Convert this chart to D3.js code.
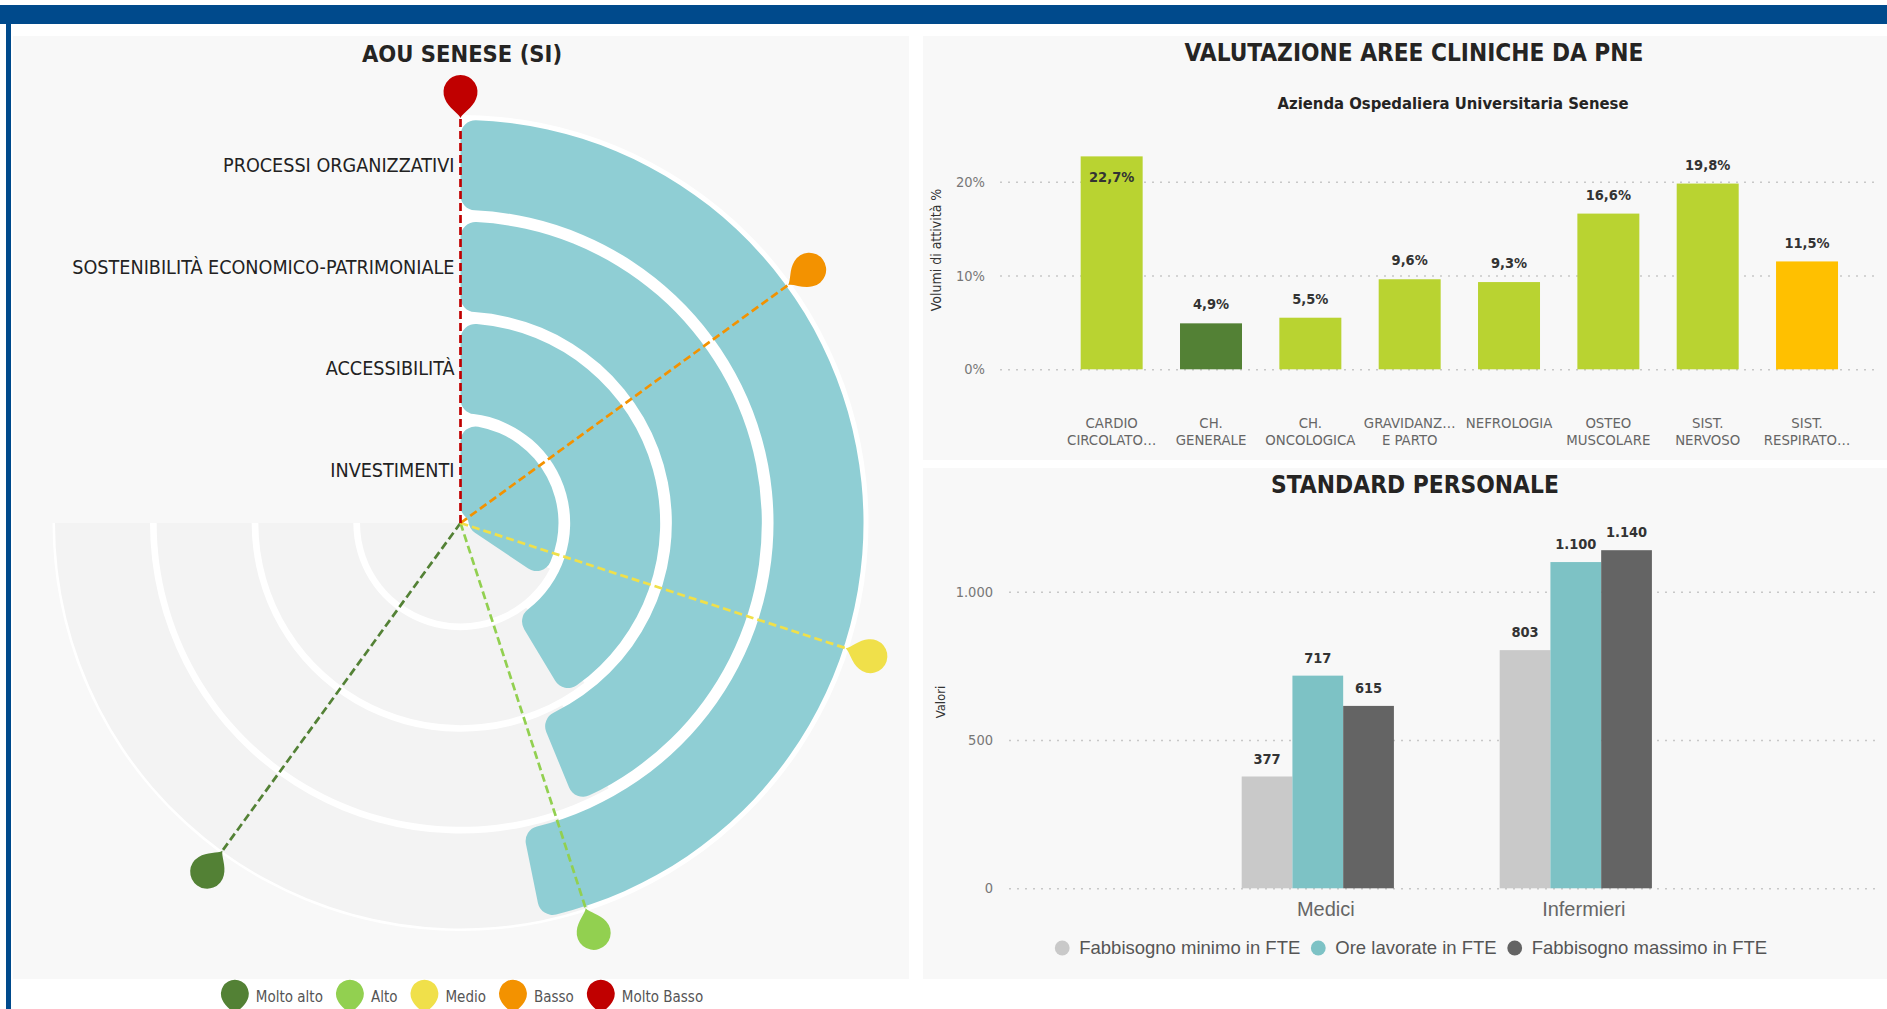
<!DOCTYPE html>
<html>
<head>
<meta charset="utf-8">
<script src="https://cdn.jsdelivr.net/npm/d3@7"></script>
<style>
  body { margin: 0; background: #fff; }
  svg { display: block; }
</style>
</head>
<body>
<div id="chart"></div>
<script>
(function() {
"use strict";

// --- radial chart (AOU SENESE) ---
var aree = ["PROCESSI ORGANIZZATIVI", "SOSTENIBILITÀ ECONOMICO-PATRIMONIALE", "ACCESSIBILITÀ", "INVESTIMENTI"];
var areeValori = [62.4, 58.4, 55.2, 45.9];
var livelli = ["Molto alto", "Alto", "Medio", "Basso", "Molto Basso"];
var livelliSoglie = [80, 60, 40, 20, 0];
var livelliColori = ["#538135", "#92d050", "#f0e04a", "#f39200", "#c00000"];

// --- PNE bar chart ---
var pneAree = [["CARDIO", "CIRCOLATO…"], ["CH.", "GENERALE"], ["CH.", "ONCOLOGICA"], ["GRAVIDANZ…", "E PARTO"],
               ["NEFROLOGIA"], ["OSTEO", "MUSCOLARE"], ["SIST.", "NERVOSO"], ["SIST.", "RESPIRATO…"]];
var pneValori = [22.7, 4.9, 5.5, 9.6, 9.3, 16.6, 19.8, 11.5];
var pneColori = ["#b9d331", "#538135", "#b9d331", "#b9d331", "#b9d331", "#b9d331", "#b9d331", "#ffc000"];
var pneTicks = [0, 10, 20];

// --- standard personale ---
var figure = ["Medici", "Infermieri"];
var serie = ["Fabbisogno minimo in FTE", "Ore lavorate in FTE", "Fabbisogno massimo in FTE"];
var fabbisognoMinimo = [377, 803];
var oreLavorate = [717, 1100];
var fabbisognoMassimo = [615, 1140];
var serieColori = ["#c9c9c9", "#7dc2c5", "#646464"];
var personaleTicks = [0, 500, 1000];

var COND = "'DejaVu Sans Condensed','DejaVu Sans',sans-serif";
var SANS = "'Liberation Sans',Arial,sans-serif";

var it = d3.formatLocale({decimal: ",", thousands: ".", grouping: [3], currency: ["€", ""]});
var fmtInt = it.format(",.0f");
var fmtPct = it.format(".1f");

var W = 1887, H = 1009;
var svg = d3.select("#chart").append("svg").attr("width", W).attr("height", H);

// frame
svg.append("rect").attr("x", 0).attr("y", 5).attr("width", W).attr("height", 19).attr("fill", "#004a8c");
svg.append("rect").attr("x", 6).attr("y", 5).attr("width", 5).attr("height", H).attr("fill", "#004a8c");
var panels = [[13, 36, 896, 943], [923, 36, 964, 424], [923, 468, 964, 511]];
svg.selectAll("rect.panel").data(panels).enter().append("rect")
    .attr("class", "panel")
    .attr("x", function(d) { return d[0]; })
    .attr("y", function(d) { return d[1]; })
    .attr("width", function(d) { return d[2]; })
    .attr("height", function(d) { return d[3]; })
    .attr("fill", "#f8f8f8");

function title(x, y, txt, size) {
    svg.append("text").attr("x", x).attr("y", y).attr("text-anchor", "middle")
        .attr("font-family", COND).attr("font-weight", "bold")
        .attr("font-size", size).attr("fill", "#252423").text(txt);
}
title(462, 62, "AOU SENESE (SI)", 23.5);
title(1414, 61, "VALUTAZIONE AREE CLINICHE DA PNE", 24.2);
title(1453, 109, "Azienda Ospedaliera Universitaria Senese", 16.5);
title(1415, 493, "STANDARD PERSONALE", 24.3);

// ================= radial chart =================
var cx = 460.5, cy = 523;
var rOuter = 403;
var g = svg.append("g").attr("transform", "translate(" + cx + "," + cy + ")");

var angle = d3.scaleLinear().domain([0, 100]).range([0, 1.5 * Math.PI]);
var ring = d3.scaleBand().domain(aree.slice().reverse()).range([8, rOuter]).paddingInner(0.115);

var arc = d3.arc();
g.append("path")
    .attr("d", arc({innerRadius: 0, outerRadius: rOuter + 5, startAngle: 0, endAngle: angle(100)}))
    .attr("fill", "#fff");

// grey tracks are a little wider than the bars; they start just before the bar end
g.selectAll("path.track").data(aree).enter().append("path")
    .attr("class", "track")
    .attr("fill", "#f3f3f3")
    .attr("d", function(d, i) {
        var r0 = ring(d) - 2.5;
        return arc({innerRadius: r0 < 20 ? 0 : r0, outerRadius: ring(d) + ring.bandwidth() + 2.5,
                    startAngle: angle(areeValori[i]) - 0.12, endAngle: angle(100)});
    });

var barArc = d3.arc().cornerRadius(15);
g.selectAll("path.bar").data(aree).enter().append("path")
    .attr("class", "bar")
    .attr("fill", "#8fced4")
    .attr("d", function(d, i) {
        return barArc({innerRadius: ring(d), outerRadius: ring(d) + ring.bandwidth(),
                       startAngle: 0, endAngle: angle(areeValori[i])});
    });

g.selectAll("text.area").data(aree).enter().append("text")
    .attr("class", "area")
    .attr("x", -6)
    .attr("y", function(d) { return -(ring(d) + ring.bandwidth() / 2); })
    .attr("dy", "0.36em")
    .attr("text-anchor", "end")
    .attr("font-family", COND).attr("font-size", 19.6).attr("fill", "#222")
    .text(function(d) { return d; });

var pin = "M0,0 C-2,-5 -12,-10 -15.5,-19 A17,17 0 1 1 15.5,-19 C12,-10 2,-5 0,0Z";
var rPin = 405;
var soglie = livelli.map(function(l, i) { return {nome: l, v: livelliSoglie[i], c: livelliColori[i]}; });

g.selectAll("line.soglia").data(soglie).enter().append("line")
    .attr("class", "soglia")
    .attr("x1", 0).attr("y1", 0)
    .attr("x2", function(d) { return rPin * Math.sin(angle(d.v)); })
    .attr("y2", function(d) { return -rPin * Math.cos(angle(d.v)); })
    .attr("stroke", function(d) { return d.c; })
    .attr("stroke-width", 2.7)
    .attr("stroke-dasharray", "8,4");

g.selectAll("path.pin").data(soglie).enter().append("path")
    .attr("class", "pin")
    .attr("d", pin)
    .attr("fill", function(d) { return d.c; })
    .attr("transform", function(d) {
        var a = angle(d.v);
        return "translate(" + (rPin * Math.sin(a)) + "," + (-rPin * Math.cos(a)) + ") rotate(" + (a * 180 / Math.PI) + ")";
    });

// legend under the radial chart
var leg = svg.append("g");
var items = leg.selectAll("g").data(soglie).enter().append("g");
items.append("path").attr("d", pin)
    .attr("fill", function(d) { return d.c; })
    .attr("transform", "translate(0,1015) scale(0.82)");
items.append("text").attr("x", 21).attr("y", 997).attr("dy", "0.35em")
    .attr("font-family", COND).attr("font-size", 15).attr("fill", "#555")
    .text(function(d) { return d.nome; });
var xLeg = 0;
items.each(function() {
    var w = d3.select(this).select("text").node().getComputedTextLength();
    d3.select(this).attr("transform", "translate(" + xLeg + ",0)");
    xLeg += 21 + w + 27;
});
leg.attr("transform", "translate(" + (462 - (xLeg - 27 + 14) / 2 + 14) + ",0)");

// ================= PNE bars =================
var px = d3.scaleBand().domain(d3.range(pneAree.length)).range([1062, 1856.7])
    .paddingInner(0.376).paddingOuter(0.188);
var py = d3.scaleLinear().domain([0, 25]).range([369.3, 134.8]);

var gridStyle = function(sel) {
    sel.select(".domain").remove();
    sel.selectAll(".tick line").attr("stroke", "#c8c8c8").attr("stroke-width", 1.5).attr("stroke-dasharray", "2,6");
    sel.selectAll(".tick text").attr("fill", "#777").attr("font-family", COND).attr("font-size", 14.5);
};

svg.append("g").attr("transform", "translate(1000,0)")
    .call(d3.axisLeft(py).tickValues(pneTicks).tickSize(-877).tickPadding(15)
        .tickFormat(function(d) { return d + "%"; }))
    .call(gridStyle);

svg.append("g").selectAll("rect").data(pneValori).enter().append("rect")
    .attr("x", function(d, i) { return px(i); })
    .attr("width", px.bandwidth())
    .attr("y", function(d) { return py(d); })
    .attr("height", function(d) { return py(0) - py(d); })
    .attr("fill", function(d, i) { return pneColori[i]; });

svg.append("g").selectAll("text").data(pneValori).enter().append("text")
    .attr("x", function(d, i) { return px(i) + px.bandwidth() / 2; })
    .attr("y", function(d) { return py(d) - 19 < 150 ? py(d) + 21 : py(d) - 19; })
    .attr("dy", "0.35em")
    .attr("text-anchor", "middle")
    .attr("font-family", COND).attr("font-weight", "bold").attr("font-size", 14.5).attr("fill", "#333")
    .text(function(d) { return fmtPct(d) + "%"; });

var pxAxis = svg.append("g").attr("transform", "translate(0,414)")
    .call(d3.axisBottom(px).tickSize(0).tickFormat(""));
pxAxis.select(".domain").remove();
pxAxis.selectAll(".tick text").each(function(i) {
    var t = d3.select(this).attr("y", 0).attr("dy", null)
        .attr("fill", "#666").attr("font-family", COND).attr("font-size", 14.8);
    pneAree[i].forEach(function(line, k) {
        t.append("tspan").attr("x", 0).attr("y", 13.5 + k * 17.5).text(line);
    });
});

svg.append("text").attr("transform", "translate(941,250) rotate(-90)")
    .attr("text-anchor", "middle").attr("font-family", COND).attr("font-size", 14).attr("fill", "#333")
    .text("Volumi di attività %");

// ================= standard personale =================
var valori = [fabbisognoMinimo, oreLavorate, fabbisognoMassimo];
var sx = d3.scaleBand().domain(figure).range([1188.8, 1704.8]).paddingInner(0.41).paddingOuter(0.205);
var sx1 = d3.scaleBand().domain(d3.range(serie.length)).range([0, sx.bandwidth()]);
var sy = d3.scaleLinear().domain([0, 1200]).range([888.3, 532.4]);

svg.append("g").attr("transform", "translate(1009,0)")
    .call(d3.axisLeft(sy).tickValues(personaleTicks).tickSize(-868).tickPadding(16).tickFormat(fmtInt))
    .call(gridStyle);

var gruppi = svg.append("g").selectAll("g").data(figure).enter().append("g")
    .attr("transform", function(d) { return "translate(" + sx(d) + ",0)"; });

gruppi.selectAll("rect").data(function(d, i) {
        return serie.map(function(s, k) { return {k: k, v: valori[k][i]}; });
    }).enter().append("rect")
    .attr("x", function(d) { return sx1(d.k); })
    .attr("width", sx1.bandwidth())
    .attr("y", function(d) { return sy(d.v); })
    .attr("height", function(d) { return sy(0) - sy(d.v); })
    .attr("fill", function(d) { return serieColori[d.k]; });

gruppi.selectAll("text").data(function(d, i) {
        return serie.map(function(s, k) { return {k: k, v: valori[k][i]}; });
    }).enter().append("text")
    .attr("x", function(d) { return sx1(d.k) + sx1.bandwidth() / 2; })
    .attr("y", function(d) { return sy(d.v) - 18; })
    .attr("dy", "0.35em")
    .attr("text-anchor", "middle")
    .attr("font-family", COND).attr("font-weight", "bold").attr("font-size", 14.5).attr("fill", "#333")
    .text(function(d) { return fmtInt(d.v); });

var sxAxis = svg.append("g").attr("transform", "translate(8,895)")
    .call(d3.axisBottom(sx).tickSize(0).tickPadding(0));
sxAxis.select(".domain").remove();
sxAxis.selectAll(".tick text").attr("dy", "0.71em").attr("y", 7)
    .attr("fill", "#666").attr("font-family", SANS).attr("font-size", 20);

svg.append("text").attr("transform", "translate(945,702) rotate(-90)")
    .attr("text-anchor", "middle").attr("font-family", COND).attr("font-size", 13).attr("fill", "#333")
    .text("Valori");

var leg2 = svg.append("g");
var items2 = leg2.selectAll("g").data(serie).enter().append("g");
items2.append("circle").attr("cx", 0).attr("cy", 948).attr("r", 7.4)
    .attr("fill", function(d, i) { return serieColori[i]; });
items2.append("text").attr("x", 17).attr("y", 948).attr("dy", "0.35em")
    .attr("font-family", SANS).attr("font-size", 18.5).attr("fill", "#555")
    .text(function(d) { return d; });
var xLeg2 = 0;
items2.each(function() {
    var w = d3.select(this).select("text").node().getComputedTextLength();
    d3.select(this).attr("transform", "translate(" + xLeg2 + ",0)");
    xLeg2 += 17 + w + 18;
});
leg2.attr("transform", "translate(" + (1411 - (xLeg2 - 18 + 7.4) / 2 + 7.4) + ",0)");

})();
</script>
</body>
</html>
